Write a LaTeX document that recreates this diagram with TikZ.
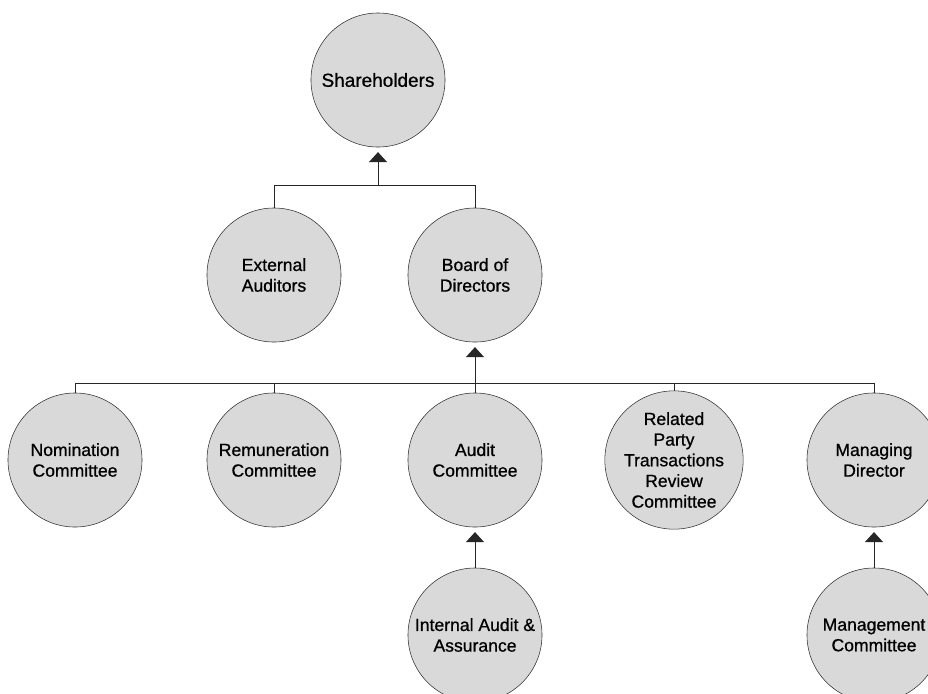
\documentclass[tikz,border=0pt]{standalone}
\usepackage{fontspec}
\setmainfont{Liberation Sans}
\newfontfamily\medfont[FakeBold=0.8]{Liberation Sans}
\usetikzlibrary{arrows.meta}

\tikzset{
    unit/.style={circle, draw=black!80, fill=black!15, minimum size=3.35cm, inner sep=0pt,
        align=center, text=black, font=\medfont\fontsize{12.5}{14.7}\selectfont},
    link/.style={draw=black!85, line width=0.7pt},
    up/.style={link, -{Triangle[width=0.45cm, length=0.25cm]}, shorten >=0.12cm},
}

\begin{document}
\begin{tikzpicture}[x=0.025cm, y=-0.025cm]
        \useasboundingbox (0,0) rectangle (928,693);

        % top levels
        \node[unit, font=\medfont\fontsize{13.5}{15}\selectfont] (sh) at (378,80) {Shareholders};
        \node[unit] (ext) at (274,275) {External\\Auditors};
        \node[unit] (board) at (475,275) {Board of\\Directors};

        % committees
        \node[unit] (nom) at (75,460) {Nomination\\Committee};
        \node[unit] (rem) at (274,460) {Remuneration\\Committee};
        \node[unit] (aud) at (475,460) {Audit\\Committee};
        \node[unit] (rpt) at (674,460) {Related\\Party\\Transactions\\Review\\Committee};
        \node[unit] (md) at (874,460) {Managing\\Director};

        % bottom row
        \node[unit] (ia) at (475,635) {Internal Audit \&\\Assurance};
        \node[unit] (mc) at (874,635) {Management\\Committee};

        \coordinate (top) at (378,185);
        \coordinate (mid) at (475,383);

        \draw[link] (ext.north) -- (ext.north |- top) -- (board.north |- top) -- (board.north);
        \draw[up] (top) -- (sh);

        \draw[link] (nom.north) -- (nom.north |- mid) -- (md.north |- mid) -- (md.north);
        \foreach \n in {rem, aud, rpt}
            \draw[link] (\n.north) -- (\n.north |- mid);
        \draw[up] (mid) -- (board);

        \draw[up] (ia) -- (aud);
        \draw[up] (mc) -- (md);
\end{tikzpicture}
\end{document}
